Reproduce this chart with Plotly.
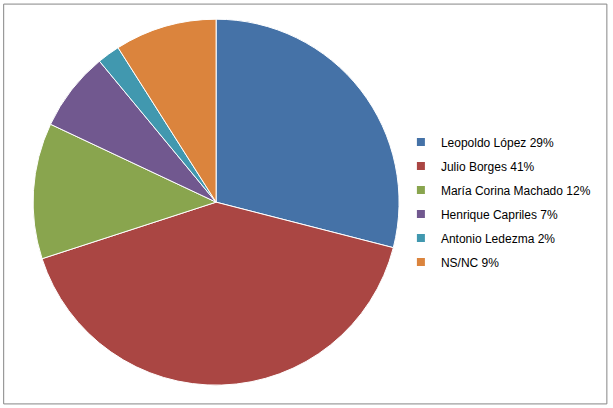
import plotly.graph_objects as go

labels = ["Leopoldo López 29%", "Julio Borges 41%", "María Corina Machado 12%",
          "Henrique Capriles 7%", "Antonio Ledezma 2%", "NS/NC 9%"]
values = [29, 41, 12, 7, 2, 9]
colors = ["#4572A7", "#AA4643", "#89A54E", "#71588F", "#4198AF", "#DB843D"]

fig = go.Figure(go.Pie(
    labels=labels, values=values, sort=False, direction="clockwise", rotation=0,
    marker=dict(colors=colors, line=dict(color="white", width=1)),
    textinfo="none", hoverinfo="label", showlegend=False,
    domain=dict(x=[0.054, 0.651], y=[0.056, 0.953]),
))

# legend entries drawn from dummy traces so the row spacing can match
for lab, col in zip(labels, colors):
    fig.add_trace(go.Scatter(
        x=[None], y=[None], mode="markers", name=lab, legendgroup=lab,
        marker=dict(symbol="square", size=8, color=col),
    ))

fig.update_layout(
    width=613, height=408,
    margin=dict(l=0, r=0, t=0, b=0, autoexpand=False),
    paper_bgcolor="white", plot_bgcolor="white",
    font=dict(family="Liberation Sans, Arial", size=12, color="#000000"),
    xaxis=dict(visible=False), yaxis=dict(visible=False),
    legend=dict(x=0.654, y=0.505, xanchor="left", yanchor="middle",
                tracegroupgap=5, itemclick=False, itemwidth=30, font=dict(size=12)),
    shapes=[dict(type="rect", xref="paper", yref="paper", x0=0.006, y0=0.01, x1=0.99, y1=0.99,
                 line=dict(color="#868686", width=1))],
)

fig.write_html("out.html", config={"displayModeBar": False},
               post_script="document.body.style.margin='0';")
